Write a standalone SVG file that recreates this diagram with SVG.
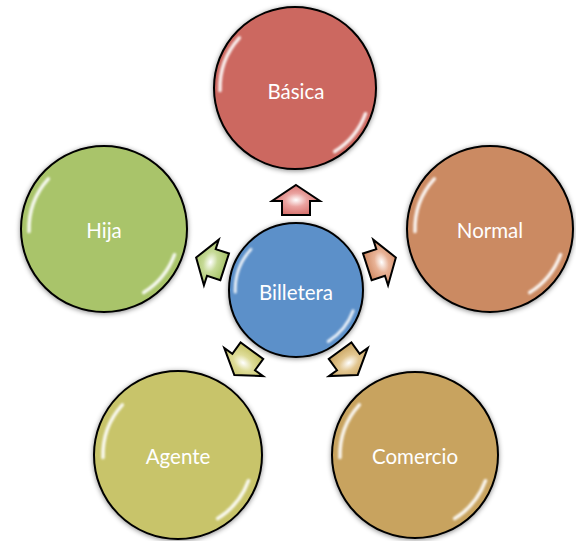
<svg xmlns="http://www.w3.org/2000/svg" width="576" height="541" viewBox="0 0 576 541">
<defs>
<style>
.c{stroke:#000;stroke-width:2;filter:url(#sh)}
.t{font-family:Lato,"Open Sans","Liberation Sans",sans-serif;font-size:20.5px;fill:#fff;text-anchor:middle}
.a{stroke:#000;stroke-width:2;stroke-linejoin:miter}
.g{fill:none;stroke:#fff;stroke-width:3.5;stroke-linecap:round;opacity:0.9;filter:url(#bl)}
</style>
<filter id="sh" x="-20%" y="-20%" width="140%" height="140%"><feDropShadow dx="0" dy="1" stdDeviation="2.5" flood-color="#000" flood-opacity="0.45"/></filter>
<filter id="bl" x="-20%" y="-20%" width="140%" height="140%"><feGaussianBlur stdDeviation="1.2"/></filter>
<radialGradient id="ga1" cx="0.5" cy="0.5" r="0.5"><stop offset="0" stop-color="#fff"/><stop offset="0.45" stop-color="#eaa3a0"/><stop offset="1" stop-color="#d8736f"/></radialGradient>
<radialGradient id="ga2" cx="0.5" cy="0.5" r="0.5"><stop offset="0" stop-color="#fff"/><stop offset="0.45" stop-color="#e8b296"/><stop offset="1" stop-color="#d38f6a"/></radialGradient>
<radialGradient id="ga3" cx="0.5" cy="0.5" r="0.5"><stop offset="0" stop-color="#fff"/><stop offset="0.45" stop-color="#e2c690"/><stop offset="1" stop-color="#cca866"/></radialGradient>
<radialGradient id="ga4" cx="0.5" cy="0.5" r="0.5"><stop offset="0" stop-color="#fff"/><stop offset="0.45" stop-color="#dedc98"/><stop offset="1" stop-color="#c9c66c"/></radialGradient>
<radialGradient id="ga5" cx="0.5" cy="0.5" r="0.5"><stop offset="0" stop-color="#fff"/><stop offset="0.45" stop-color="#c6da96"/><stop offset="1" stop-color="#a9c46c"/></radialGradient>
<path id="arrow" d="M0,-105 L24,-89 L14,-89 L14,-75 L-14,-75 L-14,-89 L-24,-89 Z"/>
<g id="gloss"><path class="g" d="M-75,2.6 A75,75 0 0 1 -55.7,-50.2"/><path class="g" d="M70.5,25.7 A75,75 0 0 1 39.7,63.6"/></g>
</defs>
<g id="connectors">
<use href="#arrow" class="a" fill="url(#ga1)" transform="translate(296,290)"/>
<use href="#arrow" class="a" fill="url(#ga2)" transform="translate(296,290) rotate(72)"/>
<use href="#arrow" class="a" fill="url(#ga3)" transform="translate(296,290) rotate(144)"/>
<use href="#arrow" class="a" fill="url(#ga4)" transform="translate(296,290) rotate(216)"/>
<use href="#arrow" class="a" fill="url(#ga5)" transform="translate(296,290) rotate(288)"/>
</g>
<g id="basica"><circle class="c" cx="295" cy="88" r="81" fill="#cc6760"/><use href="#gloss" transform="translate(295,88)"/><text class="t" x="296" y="99">Básica</text></g>
<g id="normal"><circle class="c" cx="490" cy="229" r="83" fill="#cb8a62"/><use href="#gloss" transform="translate(490,229)"/><text class="t" x="490" y="238">Normal</text></g>
<g id="comercio"><circle class="c" cx="415" cy="455" r="83" fill="#c8a35e"/><use href="#gloss" transform="translate(415,455)"/><text class="t" x="415" y="464">Comercio</text></g>
<g id="agente"><circle class="c" cx="178" cy="455" r="84" fill="#c8c46a"/><use href="#gloss" transform="translate(178,455)"/><text class="t" x="178" y="464">Agente</text></g>
<g id="hija"><circle class="c" cx="104" cy="229" r="83" fill="#a9c46a"/><use href="#gloss" transform="translate(104,229)"/><text class="t" x="104" y="238">Hija</text></g>
<g id="billetera"><circle class="c" cx="296" cy="290" r="67" fill="#5b90c9"/><use href="#gloss" transform="translate(296,290) scale(0.81)"/><text class="t" x="296" y="300">Billetera</text></g>
</svg>
